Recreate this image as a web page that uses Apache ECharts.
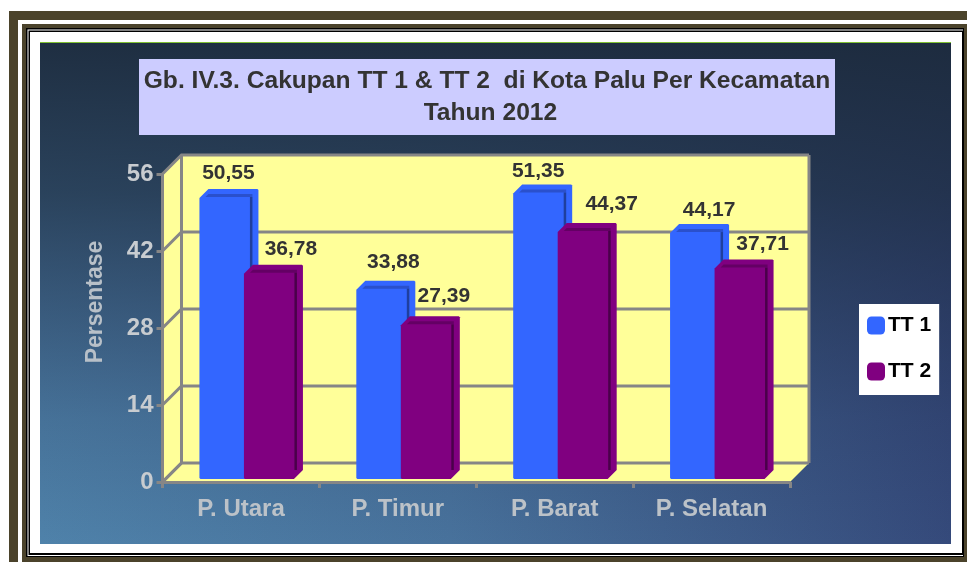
<!DOCTYPE html>
<html><head><meta charset="utf-8">
<style>html,body{margin:0;padding:0;background:#fff}#c{width:967px;height:562px}</style>
<script src="https://cdn.jsdelivr.net/npm/echarts@6/dist/echarts.min.js"></script>
</head><body><div id="c"></div>
<script>
var categories = ['P. Utara','P. Timur','P. Barat','P. Selatan'];
var tt1 = [50.55,33.88,51.35,44.17];
var tt2 = [36.78,27.39,44.37,37.71];
var yTicks = [0,14,28,42,56];
var titleLines = 'Gb. IV.3. Cakupan TT 1 & TT 2  di Kota Palu Per Kecamatan\n Tahun 2012';
var yName = 'Persentase';
// hand placement of the value labels in the source chart (style, not data)
var labelShift1 = [[0,-16],[8,-18],[-4,-13],[10,-14]];
var labelShift2 = [[18,-16],[14,-20],[25,-19],[19,-15]];

var GRAY='#868686', YEL='#ffff99', D=19;
var chart = echarts.init(document.getElementById('c'),null,{renderer:'canvas'});

function fmt(v){return v.toFixed(2).replace('.',',');}
function barRender(leftOff,base,dark,band,shifts){
  return function(params,api){
    var i=api.value(0), v=api.value(1);
    var p=api.coord([i,v]), b=api.coord([i,0]);
    var l=b[0]+leftOff, r=l+50, ft=p[1]-6, bot=b[1]-3, dp=9;
    var s=shifts[i];
    return {type:'group',children:[
      {type:'polygon',shape:{points:[[l,bot-1],[l,ft],[l+dp,ft-dp],[r+dp-1,ft-dp],[r+dp,ft-dp+1],[r+dp,bot-dp],[r,bot],[l+1,bot]]},style:{fill:base}},
      {type:'polygon',shape:{points:[[l+dp,ft-4],[r+3,ft-4],[r+3,ft-1],[l+6,ft-1]]},style:{fill:band}},
      {type:'rect',shape:{x:r+0.5,y:ft-1,width:2.5,height:bot-ft-8},style:{fill:dark}},
      {type:'text',x:l+29+s[0],y:ft-dp+s[1],style:{text:fmt(v),fill:'#333333',font:'bold 21px "Liberation Sans"',align:'center',verticalAlign:'middle'}}
    ]};
  };
}
function wallRender(params,api){
  var band=api.size([1,0])[0];
  var x0=api.coord([0,0])[0]-band/2, x1=api.coord([categories.length-1,0])[0]+band/2;
  var y0=api.coord([0,yTicks[0]])[1], y1=api.coord([0,yTicks[yTicks.length-1]])[1];
  return {type:'group',children:[
    {type:'polygon',shape:{points:[[x0,y0],[x0,y1],[x0+D,y1-D],[x1+D,y1-D],[x1+D,y0-D],[x1,y0]]},style:{fill:YEL}},
    {type:'polyline',shape:{points:[[x0+D,y0-D],[x0+D,y1-D]]},style:{stroke:GRAY,lineWidth:3,fill:null}},
    {type:'polyline',shape:{points:[[x1+D,y1-D],[x1+D,y0-D]]},style:{stroke:GRAY,lineWidth:3,fill:null}},
    {type:'polyline',shape:{points:[[x0,y0],[x0+D,y0-D]]},style:{stroke:GRAY,lineWidth:3,fill:null}}
  ]};
}
function gridRender(params,api){
  var band=api.size([1,0])[0];
  var x0=api.coord([0,0])[0]-band/2, x1=api.coord([categories.length-1,0])[0]+band/2;
  var y=api.coord([0,api.value(0)])[1];
  return {type:'polyline',shape:{points:[[x0,y],[x0+D,y-D],[x1+D,y-D]]},style:{stroke:GRAY,lineWidth:3,fill:null}};
}
function box(x,y,x2,y2,f,z){return {type:'rect',z:z,silent:true,shape:{x:x,y:y,width:x2-x,height:y2-y},style:{fill:f}};}

var idx=categories.map(function(c,i){return i;});
chart.setOption({
  animation:false,
  backgroundColor:'#ffffff',
  title:{text:titleLines,left:487,top:65,padding:0,textAlign:'center',
    textStyle:{color:'#333333',fontFamily:'Liberation Sans',fontWeight:'bold',fontSize:24.6,lineHeight:32},z:10},
  legend:{data:['TT 1','TT 2'],orient:'vertical',left:859,top:304,backgroundColor:'#ffffff',
    padding:[11,8,13,8],itemWidth:18,itemHeight:18,itemGap:25,icon:'roundRect',
    textStyle:{color:'#000000',fontFamily:'Liberation Sans',fontWeight:'bold',fontSize:21,padding:[0,0,0,-2]}},
  grid:{left:162.5,right:177,top:174,height:308,containLabel:false},
  xAxis:{type:'category',data:categories,z:5,
    axisLine:{lineStyle:{color:GRAY,width:3}},
    axisTick:{show:true,length:6,lineStyle:{color:GRAY,width:3}},
    axisLabel:{color:'#bcc2c8',fontFamily:'Liberation Sans',fontWeight:'bold',fontSize:24,margin:15},
    splitLine:{show:false}},
  yAxis:{type:'value',min:0,max:56,interval:14,z:5,name:yName,nameLocation:'middle',nameGap:55,nameRotate:90,
    nameTextStyle:{color:'#b8c0c8',fontFamily:'Liberation Sans',fontWeight:'bold',fontSize:23,padding:[0,0,0,52]},
    axisLine:{show:true,lineStyle:{color:GRAY,width:3}},
    axisTick:{show:true,length:6,lineStyle:{color:GRAY,width:3}},
    axisLabel:{color:'#c8ccd0',fontFamily:'Liberation Sans',fontWeight:'bold',fontSize:24,margin:9},
    splitLine:{show:false}},
  series:[
    {name:'wall',type:'custom',z:1,silent:true,data:[[0]],renderItem:wallRender,encode:{y:0}},
    {name:'gridlines',type:'custom',z:1,silent:true,data:yTicks.map(function(t){return [t];}),renderItem:gridRender,encode:{y:0}},
    {name:'TT 1',type:'custom',z:3,itemStyle:{color:'#3366ff'},data:idx.map(function(i){return [i,tt1[i]];}),encode:{x:0,y:1},
      renderItem:barRender(-41.5,'#3366ff','#1f3f9e','#2a50cc',labelShift1)},
    {name:'TT 2',type:'custom',z:4,itemStyle:{color:'#800080'},data:idx.map(function(i){return [i,tt2[i]];}),encode:{x:0,y:1},
      renderItem:barRender(3,'#800080','#4a004a','#640064',labelShift2)}
  ],
  graphic:{elements:[
    box(9,11,967,562,'#4b432b',-20),
    box(18,20,967,562,'#ffffff',-19),
    box(22,24,967,562,'#4b432b',-18),
    box(26,28,964,557,'#000000',-17),
    box(27.5,29.5,963,556,'#ffffff',-16),
    box(28.5,30.5,963,555,'#000000',-15),
    box(30,32,962,553,'#ffffff',-14),
    box(40,42,951,43,'#7fc032',-13),
    {type:'rect',z:-12,silent:true,shape:{x:40,y:43,width:911,height:501},
      style:{fill:new echarts.graphic.LinearGradient(0,0,1,0,[{offset:0,color:'#4f82aa'},{offset:0.45,color:'#48729c'},{offset:1,color:'#354a7b'}])}},
    {type:'rect',z:-11,silent:true,shape:{x:40,y:43,width:911,height:501},
      style:{fill:new echarts.graphic.LinearGradient(0,0,0,1,[{offset:0,color:'rgba(28,42,60,0.95)'},{offset:0.3,color:'rgba(28,42,62,0.72)'},{offset:0.75,color:'rgba(28,38,70,0.18)'},{offset:1,color:'rgba(28,38,70,0)'}])}},
    box(139,59,835,135,'#ccccff',-10)
  ]}
});
</script></body></html>
